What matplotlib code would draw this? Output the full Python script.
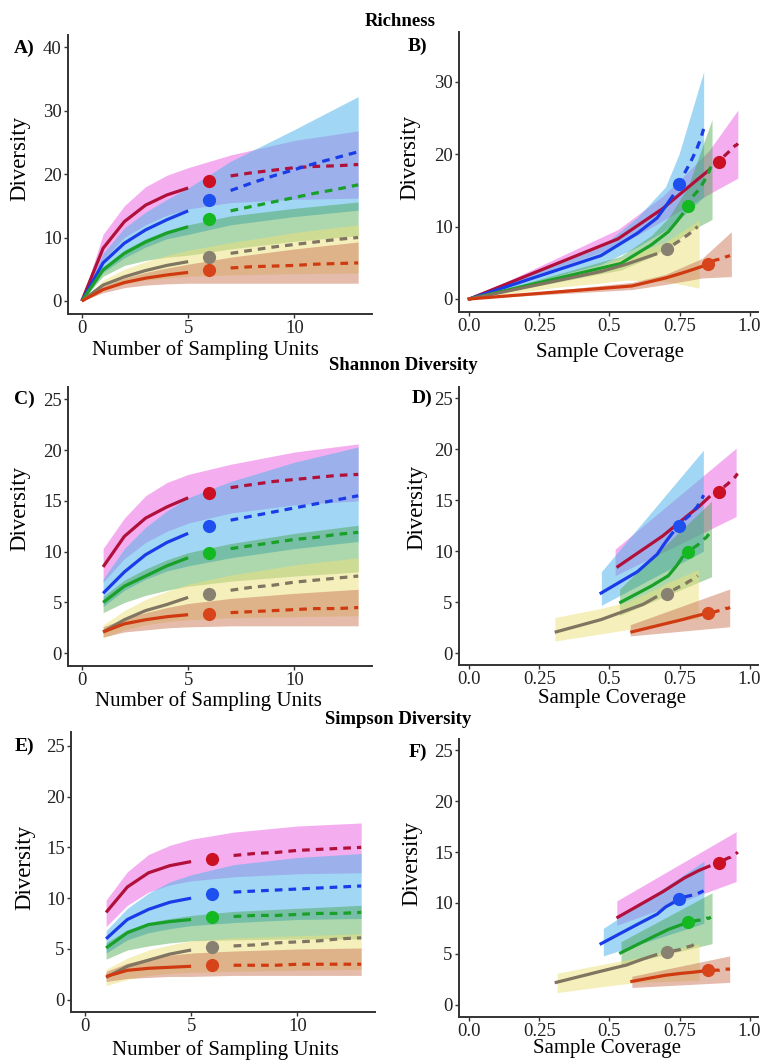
import matplotlib
matplotlib.use("Agg")
import matplotlib.pyplot as plt

plt.rcParams['font.family'] = ['Liberation Serif', 'DejaVu Serif']

# ---------------- data ----------------
# series order: red, blue, green, gray, orange assemblages
line_colors = ['#B0103A', '#1A3CE8', '#18A028', '#7F7560', '#D03A10']
point_colors = ['#CC1024', '#1E50F0', '#14B820', '#888070', '#D8441A']
ribbon_colors = ['#EB5FE1', '#4BB4EB', '#3CA03C', '#EDE07A', '#C87050']
ribbon_alphas = [0.5, 0.52, 0.42, 0.5, 0.47]

m_int_rich = [0, 1, 2, 3, 4, 5]
m_int = [1, 2, 3, 4, 5]
m_obs = 6
m_ext = [7, 8, 9, 10, 11, 12, 13]
rib_x_rich = [0, 1, 2, 3, 4, 5, 7, 10, 13]
rib_x = [1, 2, 3, 4, 5, 7, 10, 13]

# Richness (size based)
rich_int = [
    [0, 8.3, 12.5, 15.1, 16.7, 17.8],
    [0, 6.0, 9.1, 11.2, 12.8, 14.2],
    [0, 4.9, 7.5, 9.3, 10.7, 11.7],
    [0, 2.5, 3.8, 4.8, 5.6, 6.2],
    [0, 1.8, 2.9, 3.6, 4.1, 4.5],
]
rich_obs = [18.9, 15.9, 12.9, 6.9, 4.9]
rich_ext = [
    [19.7, 20.2, 20.6, 21.0, 21.2, 21.3, 21.5],
    [17.4, 18.6, 19.7, 20.7, 21.7, 22.6, 23.5],
    [14.2, 14.9, 15.6, 16.3, 17.0, 17.6, 18.3],
    [7.5, 8.0, 8.5, 8.9, 9.3, 9.7, 10.0],
    [5.2, 5.4, 5.5, 5.6, 5.8, 5.9, 6.0],
]
rich_lo = [
    [0, 6.5, 10.0, 12.0, 13.5, 14.5, 15.5, 16.0, 16.2],
    [0, 4.5, 6.8, 8.5, 9.8, 10.5, 12.0, 13.3, 14.3],
    [0, 3.9, 5.6, 6.4, 6.9, 7.2, 8.2, 9.4, 10.3],
    [0, 1.7, 2.7, 3.3, 3.6, 3.9, 4.1, 4.3, 4.4],
    [0, 1.3, 2.1, 2.5, 2.7, 2.8, 2.8, 2.8, 2.8],
]
rich_hi = [
    [0, 10.5, 15.0, 18.0, 19.8, 21.0, 23.0, 25.3, 26.8],
    [0, 7.5, 11.5, 14.0, 16.0, 17.8, 22.0, 27.0, 32.2],
    [0, 5.4, 8.0, 9.8, 11.1, 12.0, 13.4, 14.6, 15.6],
    [0, 3.3, 5.0, 6.2, 7.2, 8.0, 9.2, 10.8, 12.0],
    [0, 2.3, 3.6, 4.5, 5.2, 5.8, 6.9, 8.2, 9.3],
]

# Shannon (size based)
shan_int = [
    [8.5, 11.5, 13.3, 14.4, 15.3],
    [5.9, 8.0, 9.7, 10.9, 11.8],
    [5.0, 6.6, 7.6, 8.6, 9.4],
    [2.1, 3.3, 4.2, 4.8, 5.5],
    [2.1, 2.9, 3.3, 3.6, 3.8],
]
shan_obs = [15.8, 12.5, 9.9, 5.8, 3.9]
shan_ext = [
    [16.3, 16.6, 16.9, 17.1, 17.3, 17.5, 17.6],
    [13.1, 13.5, 13.9, 14.3, 14.7, 15.1, 15.5],
    [10.3, 10.6, 10.9, 11.2, 11.4, 11.7, 11.9],
    [6.2, 6.5, 6.7, 7.0, 7.2, 7.4, 7.6],
    [4.0, 4.1, 4.2, 4.3, 4.4, 4.4, 4.5],
]
shan_lo = [
    [7.0, 9.3, 10.9, 12.0, 12.8, 13.8, 14.6, 15.0],
    [4.6, 6.2, 7.3, 8.1, 8.6, 9.4, 10.3, 11.0],
    [4.0, 5.0, 5.7, 6.2, 6.6, 7.1, 7.6, 8.0],
    [1.5, 2.3, 2.8, 3.1, 3.3, 3.5, 3.6, 3.7],
    [1.6, 2.1, 2.3, 2.5, 2.6, 2.7, 2.7, 2.7],
]
shan_hi = [
    [10.3, 13.3, 15.5, 16.8, 17.6, 18.6, 19.8, 20.6],
    [7.3, 10.3, 12.4, 14.0, 15.3, 16.9, 18.8, 20.3],
    [5.6, 7.2, 8.3, 9.2, 9.9, 10.8, 11.8, 12.6],
    [2.8, 4.2, 5.3, 6.1, 6.8, 7.7, 8.7, 9.4],
    [2.6, 3.4, 4.0, 4.5, 4.9, 5.4, 5.9, 6.3],
]

# Simpson (size based)
simp_int = [
    [8.6, 11.1, 12.5, 13.2, 13.6],
    [6.0, 7.9, 8.9, 9.6, 10.0],
    [5.1, 6.6, 7.4, 7.7, 7.9],
    [2.2, 3.3, 3.9, 4.5, 4.9],
    [2.3, 2.9, 3.1, 3.2, 3.3],
]
simp_obs = [13.9, 10.4, 8.1, 5.2, 3.4]
simp_ext = [
    [14.2, 14.4, 14.5, 14.7, 14.8, 14.9, 15.0],
    [10.6, 10.7, 10.8, 10.9, 11.0, 11.1, 11.2],
    [8.2, 8.3, 8.3, 8.4, 8.5, 8.5, 8.6],
    [5.3, 5.4, 5.6, 5.7, 5.8, 6.0, 6.1],
    [3.4, 3.4, 3.4, 3.5, 3.5, 3.5, 3.5],
]
simp_lo = [
    [7.2, 9.3, 10.6, 11.3, 11.7, 12.1, 12.4, 12.5],
    [4.6, 5.9, 6.6, 7.0, 7.3, 7.6, 7.9, 8.0],
    [4.0, 4.9, 5.3, 5.6, 5.8, 5.9, 6.0, 6.0],
    [1.4, 2.0, 2.4, 2.6, 2.7, 2.8, 2.9, 3.0],
    [1.8, 2.1, 2.2, 2.3, 2.3, 2.4, 2.4, 2.4],
]
simp_hi = [
    [9.8, 12.6, 14.3, 15.2, 15.8, 16.5, 17.1, 17.4],
    [6.8, 9.0, 10.5, 11.6, 12.3, 13.3, 14.0, 14.4],
    [5.6, 6.9, 7.6, 8.0, 8.3, 8.7, 9.0, 9.3],
    [3.0, 4.1, 4.9, 5.4, 5.8, 6.1, 6.3, 6.5],
    [2.8, 3.6, 4.1, 4.4, 4.6, 4.8, 5.0, 5.1],
]

# Sample coverage for each sampling-unit count
cov_int = [
    [0.53, 0.69, 0.77, 0.82, 0.855],
    [0.47, 0.60, 0.67, 0.70, 0.725],
    [0.54, 0.65, 0.71, 0.74, 0.76],
    [0.31, 0.47, 0.56, 0.62, 0.665],
    [0.58, 0.70, 0.76, 0.80, 0.83],
]
cov_obs = [0.89, 0.748, 0.78, 0.705, 0.85]
cov_ext = [
    [0.908, 0.922, 0.933, 0.942, 0.949, 0.954, 0.958],
    [0.768, 0.785, 0.799, 0.811, 0.821, 0.829, 0.836],
    [0.798, 0.814, 0.827, 0.838, 0.847, 0.855, 0.862],
    [0.728, 0.748, 0.766, 0.781, 0.794, 0.805, 0.815],
    [0.866, 0.880, 0.893, 0.904, 0.914, 0.922, 0.930],
]

# Coverage-based confidence bands
covrib_rich_x = [
    [0, 0.53, 0.69, 0.77, 0.855, 0.958],
    [0, 0.47, 0.60, 0.70, 0.748, 0.836],
    [0, 0.54, 0.65, 0.71, 0.78, 0.866],
    [0, 0.31, 0.47, 0.56, 0.705, 0.82],
    [0, 0.58, 0.70, 0.83, 0.935],
]
covrib_rich_lo = [
    [0, 7.3, 10.8, 12.6, 14.5, 16.7],
    [0, 4.8, 7.2, 9.5, 11.0, 14.1],
    [0, 4.0, 5.8, 7.2, 9.2, 11.0],
    [0, 1.6, 2.2, 2.6, 2.4, 1.5],
    [0, 1.3, 2.0, 2.9, 3.1],
]
covrib_rich_hi = [
    [0, 9.6, 14.2, 17.2, 20.5, 26.1],
    [0, 7.2, 11.3, 15.5, 20.0, 31.4],
    [0, 5.9, 8.8, 11.2, 15.5, 24.8],
    [0, 3.0, 4.6, 5.8, 8.0, 10.9],
    [0, 2.3, 3.4, 5.6, 9.3],
]
covrib_shan_x = [
    [0.52, 0.952],
    [0.471, 0.835],
    [0.536, 0.864],
    [0.305, 0.47, 0.56, 0.665, 0.705, 0.817],
    [0.574, 0.929],
]
covrib_shan_lo = [
    [7.6, 13.4],
    [4.7, 10.0],
    [3.7, 7.5],
    [1.2, 1.9, 2.3, 2.8, 3.0, 3.4],
    [1.7, 2.6],
]
covrib_shan_hi = [
    [10.2, 20.1],
    [8.0, 19.9],
    [6.3, 14.9],
    [3.5, 4.4, 5.0, 6.3, 6.9, 8.2],
    [2.8, 6.3],
]
covrib_simp_x = [
    [0.526, 0.952],
    [0.478, 0.837],
    [0.541, 0.866],
    [0.313, 0.48, 0.60, 0.82],
    [0.58, 0.929],
]
covrib_simp_lo = [
    [7.8, 12.1],
    [4.8, 8.0],
    [3.9, 6.0],
    [1.2, 1.8, 2.2, 2.4],
    [1.7, 2.2],
]
covrib_simp_hi = [
    [10.2, 17.0],
    [7.5, 14.1],
    [6.2, 11.0],
    [3.1, 4.0, 4.6, 6.0],
    [2.8, 4.8],
]

x_ticks_size = [0, 5, 10]
x_ticks_cov = [0.0, 0.25, 0.5, 0.75, 1.0]
x_ticklabels_cov = ['0.0', '0.25', '0.5', '0.75', '1.0']
y_ticks_rich_size = [0, 10, 20, 30, 40]
y_ticks_rich_cov = [0, 10, 20, 30]
y_ticks_other = [0, 5, 10, 15, 20, 25]

# ---------------- figure ----------------
W, H = 764, 1063
fig = plt.figure(figsize=(W / 100, H / 100), dpi=100)


def ax_at(l, r, t, b):
    return fig.add_axes([l / W, 1 - b / H, (r - l) / W, (b - t) / H])


LW = 2.3
DASH = (0, (2.4, 1.9))
MS = 9.5


def style(ax, xlim, ylim, xt, yt, xtl=None):
    ax.set_xlim(*xlim)
    ax.set_ylim(*ylim)
    ax.set_xticks(xt)
    if xtl is not None:
        ax.set_xticklabels(xtl)
    ax.set_yticks(yt)
    for s in ['top', 'right']:
        ax.spines[s].set_visible(False)
    for s in ['left', 'bottom']:
        ax.spines[s].set_color('#333333')
        ax.spines[s].set_linewidth(1.4)
    ax.tick_params(direction='out', length=3, width=1, color='#333333',
                   labelsize=13.5, labelcolor='#222222', pad=1.5)
    ax.set_facecolor('white')


def size_panel(ax, int_x, ints, obs, ext, rx, lo, hi):
    for i in range(5):
        ax.fill_between(rx, lo[i], hi[i], color=ribbon_colors[i],
                        alpha=ribbon_alphas[i], linewidth=0, zorder=1 + i * 0.01)
    for i in range(5):
        ax.plot(int_x, ints[i], color=line_colors[i], lw=LW, zorder=3,
                solid_capstyle='butt')
        ax.plot(m_ext, ext[i], color=line_colors[i], lw=LW, ls=DASH, zorder=3)
        ax.plot([m_obs], [obs[i]], 'o', color=point_colors[i], ms=MS,
                mec='none', zorder=4)


def cov_panel(ax, with_zero, ints, obs, ext, rx, lo, hi):
    for i in range(5):
        ax.fill_between(rx[i], lo[i], hi[i], color=ribbon_colors[i],
                        alpha=ribbon_alphas[i], linewidth=0, zorder=1 + i * 0.01)
    for i in range(5):
        cx = list(cov_int[i])
        yy = list(ints[i])
        if with_zero:
            cx = [0.0] + cx
        ax.plot(cx, yy, color=line_colors[i], lw=LW, zorder=3)
        ax.plot(cov_ext[i], ext[i], color=line_colors[i], lw=LW, ls=DASH, zorder=3)
        ax.plot([cov_obs[i]], [obs[i]], 'o', color=point_colors[i], ms=MS,
                mec='none', zorder=4)


XL_SIZE = (-0.65, 13.65)
XL_COV = (-0.037, 1.03)

# A
axA = ax_at(68, 372, 35, 314)
size_panel(axA, m_int_rich, rich_int, rich_obs, rich_ext, rib_x_rich, rich_lo, rich_hi)
style(axA, XL_SIZE, (-2.05, 41.9), x_ticks_size, y_ticks_rich_size)
# B
axB = ax_at(459, 758, 32, 312)
cov_panel(axB, True, rich_int, rich_obs, rich_ext, covrib_rich_x, covrib_rich_lo, covrib_rich_hi)
style(axB, XL_COV, (-1.8, 36.9), x_ticks_cov, y_ticks_rich_cov, x_ticklabels_cov)
# C
axC = ax_at(68, 372, 387, 666)
size_panel(axC, m_int, shan_int, shan_obs, shan_ext, rib_x, shan_lo, shan_hi)
style(axC, XL_SIZE, (-1.25, 26.2), x_ticks_size, y_ticks_other)
# D
axD = ax_at(459, 758, 387, 665)
cov_panel(axD, False, shan_int, shan_obs, shan_ext, covrib_shan_x, covrib_shan_lo, covrib_shan_hi)
style(axD, XL_COV, (-1.15, 26.1), x_ticks_cov, y_ticks_other, x_ticklabels_cov)
# E
axE = ax_at(71, 375, 732, 1012)
size_panel(axE, m_int, simp_int, simp_obs, simp_ext, rib_x, simp_lo, simp_hi)
style(axE, XL_SIZE, (-1.2, 26.35), x_ticks_size, y_ticks_other)
# F
axF = ax_at(459, 758, 739, 1017)
cov_panel(axF, False, simp_int, simp_obs, simp_ext, covrib_simp_x, covrib_simp_lo, covrib_simp_hi)
style(axF, XL_COV, (-1.2, 26.1), x_ticks_cov, y_ticks_other, x_ticklabels_cov)


def ftext(x, y, s, **kw):
    fig.text(x / W, 1 - y / H, s, ha='center', va='center', **kw)


# section titles
ftext(400, 21, 'Richness', fontsize=13.5, fontweight='bold')
ftext(403, 366, 'Shannon Diversity', fontsize=13.5, fontweight='bold')
ftext(398, 719, 'Simpson Diversity', fontsize=13.5, fontweight='bold')

# panel letters
for (x, y, s) in [(24, 48, 'A)'), (417, 46, 'B)'), (24, 399, 'C)'),
                  (422, 398, 'D)'), (24, 746, 'E)'), (418, 752, 'F)')]:
    ftext(x, y, s, fontsize=14, fontweight='bold')

# axis titles
for (x, y) in [(20, 158), (410, 157), (20, 508), (417, 507), (25, 867), (412, 863)]:
    ftext(x, y, 'Diversity', fontsize=16.5, rotation=90)
for (x, y) in [(205, 350), (208, 701), (225, 1050)]:
    ftext(x, y, 'Number of Sampling Units', fontsize=15)
for (x, y) in [(610, 352), (612, 699), (607, 1048)]:
    ftext(x, y, 'Sample Coverage', fontsize=15)

fig.savefig('out.png', dpi=100, facecolor='white')
